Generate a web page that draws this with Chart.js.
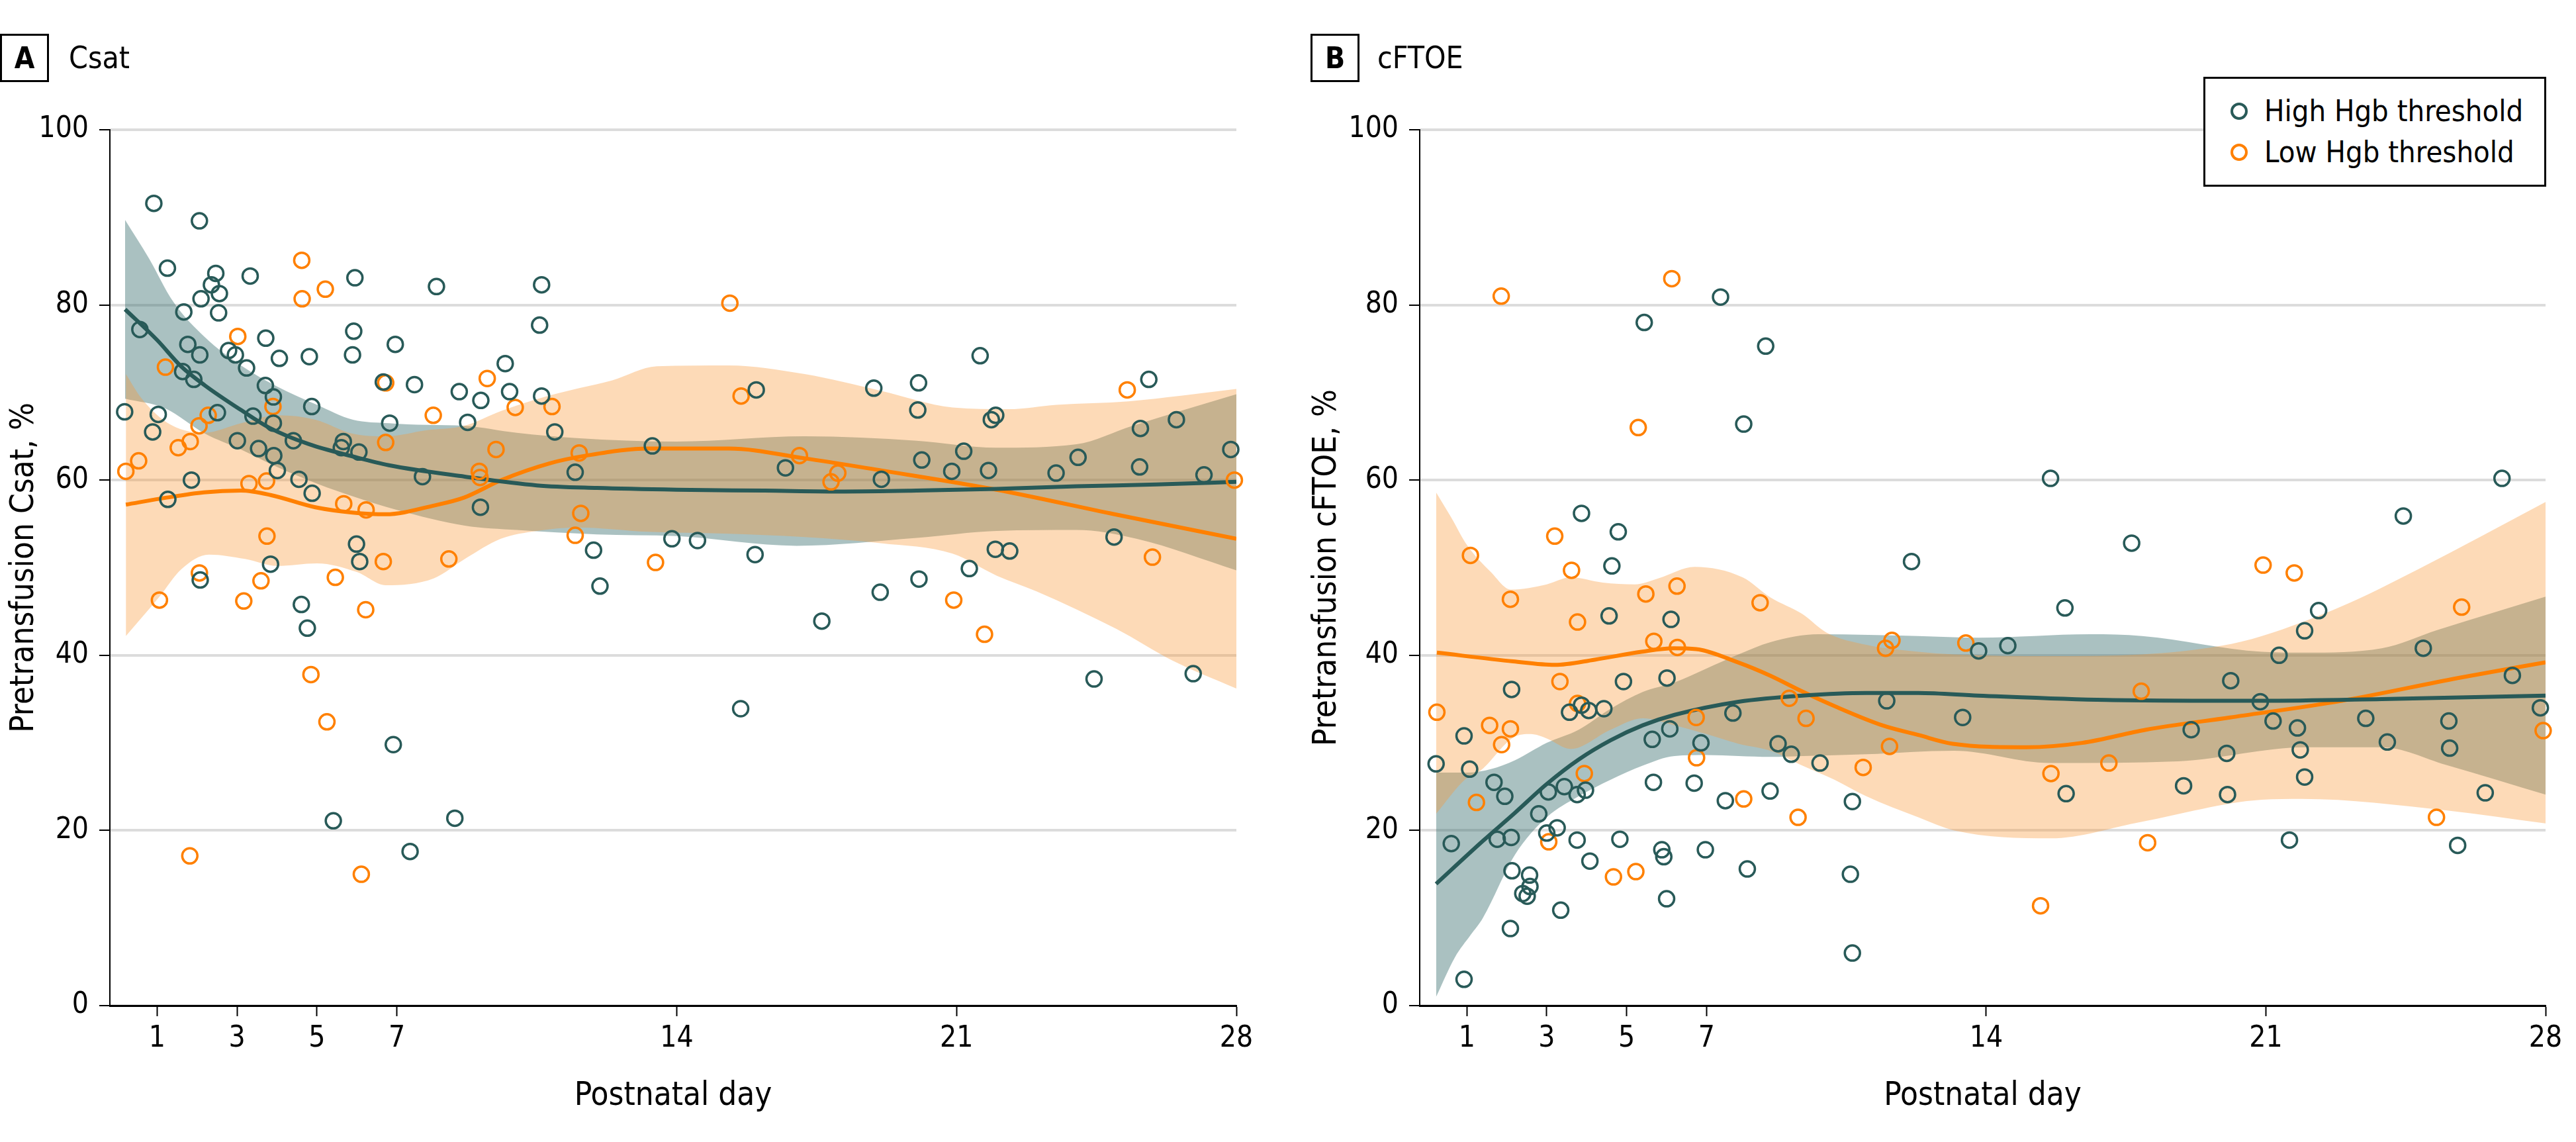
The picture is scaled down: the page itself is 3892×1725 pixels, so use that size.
<!DOCTYPE html>
<html>
<head>
<meta charset="utf-8">
<script src="https://cdn.jsdelivr.net/npm/chart.js@4.4.0/dist/chart.umd.min.js"></script>
<style>
  body { margin: 0; background: #fff; width: 3892px; height: 1725px; position: relative; overflow: hidden;
         font-family: 'DejaVu Sans Condensed', 'DejaVu Sans', sans-serif; font-stretch: condensed; }
  canvas { position: absolute; top: 0; }
  .tag { position: absolute; width: 74px; height: 73px; box-sizing: border-box; border: 3px solid #000;
         font-weight: bold; font-size: 44px; line-height: 67px; text-align: center; }
  .ttl { position: absolute; font-size: 46px; line-height: 73px; }
  .legend { position: absolute; left: 3329px; top: 116px; width: 518px; height: 166px; box-sizing: border-box;
            border: 3px solid #000; background: #fff; }
  .legend .mk { position: absolute; left: 38px; width: 26px; height: 26px; box-sizing: border-box;
                border: 4px solid; border-radius: 50%; }
  .legend .lb { position: absolute; left: 89px; font-size: 45px; line-height: 56px; }
</style>
</head>
<body>
<canvas id="csat" width="1946" height="1725" style="left:0"></canvas>
<canvas id="cftoe" width="1946" height="1725" style="left:1946px"></canvas>

<div class="tag" style="left:0;top:51px">A</div>
<div class="ttl" style="left:104px;top:51px">Csat</div>
<div class="tag" style="left:1980px;top:51px">B</div>
<div class="ttl" style="left:2081px;top:51px">cFTOE</div>

<div class="legend">
  <div class="mk" style="top:36px;border-color:#285a58"></div>
  <div class="lb" style="top:21px">High Hgb threshold</div>
  <div class="mk" style="top:98px;border-color:#ff8000"></div>
  <div class="lb" style="top:83px">Low Hgb threshold</div>
</div>

<script>
const dayTicks = [1, 3, 5, 7, 14, 21, 28];
const seriesNames = ['High Hgb threshold', 'Low Hgb threshold'];

// A: Csat, individual measurements [day, %]
const csatHigh = [[0.19,67.8],[0.57,77.2],[0.89,65.5],[0.92,91.6],[1.03,67.5],[1.26,84.2],[1.27,57.8],[1.64,72.4],[1.67,79.2],[1.77,75.5],[1.86,60.0],[1.92,71.5],[2.06,89.6],[2.07,74.3],[2.08,48.6],[2.10,80.7],[2.36,82.3],[2.47,83.6],[2.51,67.7],[2.54,79.1],[2.56,81.3],[2.79,74.8],[2.96,74.3],[3.01,64.5],[3.24,72.8],[3.33,83.3],[3.40,67.3],[3.54,63.6],[3.71,70.8],[3.72,76.2],[3.84,50.4],[3.91,69.5],[3.91,66.5],[3.92,62.8],[4.01,61.1],[4.06,73.9],[4.41,64.5],[4.55,60.1],[4.61,45.8],[4.76,43.1],[4.81,74.1],[4.87,68.4],[4.88,58.5],[5.41,21.1],[5.61,63.7],[5.66,64.4],[5.89,74.3],[5.92,77.0],[5.95,83.1],[5.99,52.7],[6.05,63.2],[6.07,50.7],[6.66,71.2],[6.82,66.5],[6.91,29.8],[6.96,75.5],[7.33,17.6],[7.44,70.9],[7.64,60.4],[7.99,82.1],[8.45,21.4],[8.56,70.1],[8.77,66.6],[9.09,56.9],[9.10,69.1],[9.71,73.3],[9.82,70.1],[10.57,77.7],[10.62,82.3],[10.62,69.6],[10.95,65.5],[11.46,60.9],[11.92,52.0],[12.08,47.9],[13.39,63.9],[13.88,53.3],[14.52,53.1],[15.6,33.9],[15.96,51.5],[15.99,70.3],[16.72,61.4],[17.63,43.9],[18.93,70.5],[19.09,47.2],[19.12,60.1],[20.03,68.0],[20.05,71.1],[20.06,48.7],[20.13,62.3],[20.88,61.0],[21.18,63.3],[21.32,49.9],[21.59,74.2],[21.8,61.1],[21.87,66.9],[21.97,52.1],[21.98,67.4],[22.33,51.9],[23.49,60.8],[24.04,62.6],[24.44,37.3],[24.94,53.5],[25.58,61.5],[25.6,65.9],[25.81,71.5],[26.5,66.9],[26.92,37.9],[27.19,60.6],[27.86,63.5]];
const csatLow = [[0.22,61.0],[0.54,62.2],[1.06,46.3],[1.21,72.9],[1.53,63.7],[1.82,17.1],[1.83,64.4],[2.05,66.2],[2.06,49.4],[2.28,67.4],[3.02,76.4],[3.17,46.2],[3.30,59.6],[3.60,48.5],[3.74,59.9],[3.75,53.6],[3.90,68.4],[4.62,85.1],[4.63,80.7],[4.85,37.8],[5.21,81.8],[5.25,32.4],[5.46,48.9],[5.67,57.3],[6.11,15.0],[6.22,45.2],[6.23,56.6],[6.66,50.7],[6.72,71.1],[6.72,64.3],[7.91,67.4],[8.30,51.0],[9.06,61.0],[9.08,60.3],[9.26,71.6],[9.48,63.5],[9.96,68.3],[10.88,68.4],[11.46,53.7],[11.56,63.1],[11.6,56.2],[13.47,50.6],[15.33,80.2],[15.61,69.6],[17.07,62.8],[17.86,59.8],[18.03,60.8],[20.93,46.3],[21.7,42.4],[25.27,70.3],[25.9,51.2],[27.95,60.0]];

// A: smoothed fits and 95% bands
const csatHighFit = [[0.2,79.5],[1,76.0],[1.6,73.0],[2.2,70.8],[3.1,68.0],[3.8,66.0],[4.8,64.1],[5.9,62.7],[6.8,61.7],[8.7,60.4],[10.5,59.4],[12,59.1],[14,58.9],[16.2,58.8],[18.2,58.7],[20,58.8],[22,59.0],[24,59.3],[26,59.5],[28,59.8]];
const csatLowFit = [[0.22,57.2],[1.24,58.0],[2.17,58.6],[3.1,58.8],[3.84,58.3],[4.96,56.9],[5.89,56.3],[6.72,56.1],[7.93,57.1],[8.68,58.0],[9.61,60.0],[10.81,61.9],[11.74,62.8],[13.3,63.6],[15.3,63.6],[17.18,62.5],[19.12,61.1],[22.0,58.9],[24.95,56.1],[28,53.3]];
const csatHighUpper = [[0.2,89.7],[0.8,85.3],[1.4,80.4],[2.2,76.3],[3.1,73.1],[4.0,70.7],[5.0,68.6],[5.9,66.9],[6.8,66.5],[7.75,66.3],[8.7,66.2],[10,65.4],[11.5,64.8],[14,64.4],[17.2,65.0],[20,64.5],[22,63.7],[24,64.1],[25.4,66.2],[28,69.8]];
const csatHighLower = [[0.2,69.3],[1.2,68.2],[2.2,65.3],[3.1,63.5],[4.0,61.5],[5.0,59.6],[6.0,58.0],[7.0,56.6],[8.7,54.8],[10,54.3],[12,53.8],[14,53.6],[17,52.5],[20,53.4],[22,54.2],[24,54.3],[25.5,53.3],[28,49.7]];
const csatLowUpper = [[0.22,72.1],[0.6,69.4],[1.24,66.6],[2.17,65.4],[3.1,66.5],[4.03,67.4],[4.96,66.9],[5.89,65.3],[6.72,65.0],[7.75,65.7],[8.68,66.2],[9.61,67.9],[10.54,69.3],[11.56,70.5],[12.39,71.4],[13.5,73.0],[15.3,73.1],[17.2,72.1],[19.1,70.2],[20.9,68.3],[22.3,68.1],[23.5,68.6],[25.3,69.0],[28,70.4]];
const csatLowLower = [[0.22,42.2],[1.06,46.7],[1.6,49.8],[2.3,51.5],[3.2,51.0],[4.0,50.2],[5.0,50.5],[6.0,49.5],[6.72,48.0],[7.93,48.8],[8.7,51.0],[9.6,53.3],[10.5,54.2],[11.5,54.6],[13.3,54.1],[15.2,53.9],[17.2,53.5],[19.1,52.8],[20.9,51.6],[22.0,49.1],[23.0,47.3],[25.0,43.0],[26.4,39.4],[28,36.2]];

// B: cFTOE, individual measurements [day, %]
const cftoeHigh = [[0.23,27.6],[0.61,18.5],[0.93,30.8],[0.93,3.0],[1.07,27.0],[1.68,25.5],[1.76,19.0],[1.95,23.9],[2.09,8.8],[2.11,19.2],[2.12,36.1],[2.13,15.4],[2.4,12.8],[2.51,12.5],[2.57,14.9],[2.58,13.6],[2.8,21.9],[3.0,19.7],[3.04,24.4],[3.26,20.3],[3.35,10.9],[3.44,25.0],[3.57,33.5],[3.76,24.1],[3.76,18.9],[3.87,34.3],[3.87,56.2],[3.97,24.6],[4.05,33.7],[4.08,16.5],[4.43,33.9],[4.56,44.5],[4.63,50.2],[4.79,54.1],[4.83,19.0],[4.92,37.0],[5.44,78.0],[5.64,30.4],[5.67,25.5],[5.88,17.8],[5.93,17.0],[6.0,12.2],[6.01,37.4],[6.08,31.6],[6.11,44.1],[6.69,25.4],[6.86,30.0],[6.97,17.8],[7.35,80.9],[7.47,23.4],[7.66,33.4],[7.93,66.4],[8.02,15.6],[8.48,75.3],[8.59,24.5],[8.79,29.9],[9.12,28.7],[9.84,27.7],[10.6,15.0],[10.65,23.3],[10.65,6.0],[11.51,34.8],[12.13,50.7],[13.41,32.9],[13.81,40.5],[14.54,41.1],[15.61,60.2],[15.97,45.4],[16.0,24.2],[17.64,52.8],[18.94,25.1],[19.13,31.5],[20.02,28.8],[20.04,24.1],[20.12,37.1],[20.86,34.7],[21.18,32.5],[21.33,40.0],[21.59,18.9],[21.79,31.7],[21.86,29.2],[21.97,42.8],[21.97,26.1],[22.32,45.1],[23.5,32.8],[24.04,30.1],[24.44,55.9],[24.94,40.8],[25.58,32.5],[25.6,29.4],[25.8,18.3],[26.49,24.3],[26.91,60.2],[27.17,37.7],[27.87,34.0]];
const cftoeLow = [[0.25,33.5],[1.09,51.4],[1.24,23.2],[1.57,32.0],[1.86,81.0],[1.87,29.8],[2.09,46.4],[2.09,31.6],[3.05,18.7],[3.2,53.6],[3.33,37.0],[3.62,49.7],[3.77,43.8],[3.77,34.5],[3.94,26.5],[4.67,14.7],[5.23,15.3],[5.29,66.0],[5.48,47.0],[5.68,41.6],[6.13,83.0],[6.26,47.9],[6.27,40.9],[6.74,32.9],[6.75,28.3],[7.93,23.6],[8.34,46.0],[9.07,35.1],[9.29,21.5],[9.49,32.8],[10.92,27.2],[11.48,40.8],[11.58,29.6],[11.64,41.7],[13.49,41.4],[15.36,11.4],[15.62,26.5],[17.07,27.7],[17.88,35.9],[18.04,18.6],[20.93,50.3],[21.71,49.4],[25.27,21.5],[25.9,45.5],[27.94,31.4]];

// B: smoothed fits and 95% bands
const cftoeHighFit = [[0.23,13.9],[1.4,18.8],[2.2,22.0],[3.0,25.3],[3.8,28.1],[4.6,30.3],[5.4,32.0],[6.2,33.2],[7.8,34.7],[9.4,35.4],[11,35.7],[12.3,35.7],[13.8,35.4],[17,34.9],[20.9,34.8],[23.9,35.0],[28,35.4]];
const cftoeLowFit = [[0.25,40.3],[2.16,39.3],[3.2,38.9],[4.2,39.5],[5.37,40.4],[6.17,40.8],[6.74,40.7],[7.78,39.2],[8.58,37.7],[9.38,35.9],[10.2,34.2],[11.4,32.0],[12.3,30.9],[13.16,29.9],[15.0,29.5],[16.4,30.0],[18.0,31.5],[20.1,32.9],[22.9,34.8],[25.8,37.4],[28,39.2]];
const cftoeHighUpper = [[0.23,26.6],[1.0,26.6],[1.6,27.0],[2.2,28.0],[2.6,29.0],[3.0,30.0],[3.8,31.5],[4.6,33.9],[5.4,35.8],[6.2,36.9],[7.0,38.5],[7.8,40.1],[8.6,41.5],[9.8,42.4],[12.3,42.2],[13.8,42.0],[16.6,42.4],[17.9,42.2],[20.9,40.4],[22.0,40.3],[23.9,40.8],[25.3,42.9],[28,46.7]];
const cftoeHighLower = [[0.23,1.0],[0.7,5.5],[1.1,8.1],[1.4,10.0],[2.2,17.2],[3.0,21.5],[3.8,23.9],[4.6,25.8],[5.4,27.4],[6.2,28.5],[7.0,28.6],[7.8,28.5],[8.6,28.4],[9.4,28.5],[11.0,28.7],[13.2,29.1],[15.6,27.7],[18.8,27.9],[22.0,29.5],[23.9,29.5],[25.5,27.5],[28,24.1]];
const cftoeLowUpper = [[0.23,58.6],[0.6,55.8],[1.0,52.6],[1.6,49.5],[2.1,47.5],[3.0,48.1],[3.6,48.9],[4.4,48.3],[5.2,48.1],[5.8,48.8],[6.7,50.1],[7.9,48.9],[8.6,46.6],[9.4,44.7],[10.0,42.6],[11.0,41.2],[12.3,40.4],[13.2,40.1],[15.6,39.9],[17.9,40.1],[19.9,41.1],[20.9,42.2],[22.9,45.6],[24.8,49.8],[28,57.5]];
const cftoeLowLower = [[0.23,21.9],[0.95,25.8],[1.36,26.9],[2.16,30.6],[2.6,31.0],[3.0,30.5],[3.6,29.3],[4.6,31.5],[5.4,32.8],[6.2,32.0],[7.0,31.0],[7.8,29.9],[8.6,29.1],[9.4,27.4],[10.2,25.8],[11.0,23.9],[12.3,21.5],[13.2,20.0],[15.6,19.1],[17.9,21.0],[20.9,23.5],[21.9,23.6],[25.5,22.3],[28,20.8]];

const tealColor = '#285a58';
const orangeColor = '#ff8000';
const tealBand = 'rgba(42,100,100,0.4)';
const orangeBand = 'rgba(250,150,50,0.35)';
const fontFamily = "'DejaVu Sans Condensed', 'DejaVu Sans', sans-serif";

Chart.defaults.font.family = fontFamily;
Chart.defaults.color = '#000';

const pts = arr => arr.map(p => ({ x: p[0], y: p[1] }));

function scatterSet(label, data, color, order) {
    return {
        label: label, data: pts(data), showLine: false, order: order, clip: false,
        pointRadius: 11.5, pointBorderWidth: 3.5, pointBorderColor: color,
        pointBackgroundColor: 'rgba(0,0,0,0)', pointStyle: 'circle'
    };
}

function fitSet(data, color, order) {
    return {
        data: pts(data), borderColor: color, borderWidth: 6, pointRadius: 0,
        cubicInterpolationMode: 'monotone', order: order, fill: false
    };
}

function bandEdge(data, order, fill, color) {
    return {
        data: pts(data), borderWidth: 0, borderColor: 'rgba(0,0,0,0)', pointRadius: 0,
        cubicInterpolationMode: 'monotone', order: order, fill: fill, backgroundColor: color
    };
}

function makePanel(id, yTitle, yWidth, padRight, titlePad, d) {
    const datasets = [
        scatterSet(seriesNames[0], d.high, tealColor, 0),
        scatterSet(seriesNames[1], d.low, orangeColor, 1),
        fitSet(d.highFit, tealColor, 2),
        fitSet(d.lowFit, orangeColor, 3),
        bandEdge(d.lowUpper, 4, false, orangeBand),
        bandEdge(d.lowLower, 5, '-1', orangeBand),
        bandEdge(d.highUpper, 6, false, tealBand),
        bandEdge(d.highLower, 7, '-1', tealBand)
    ];

    return new Chart(document.getElementById(id), {
        type: 'line',
        data: { datasets: datasets },
        options: {
            responsive: false,
            animation: false,
            devicePixelRatio: 1,
            events: [],
            layout: { padding: { left: 0, right: padRight, top: 196, bottom: 0 } },
            plugins: {
                legend: { display: false },
                tooltip: { enabled: false },
                filler: { propagate: false, drawTime: 'beforeDatasetDraw' }
            },
            scales: {
                x: {
                    type: 'linear', min: -0.18, max: 28,
                    afterBuildTicks: s => { s.ticks = dayTicks.map(v => ({ value: v })); },
                    afterFit: s => { s.height = 206; },
                    grid: { drawOnChartArea: false, drawTicks: true, tickLength: 16, tickWidth: 2, tickColor: '#000' },
                    border: { display: true, color: '#000', width: 3 },
                    ticks: { font: { size: 44 }, padding: 8, maxRotation: 0, autoSkip: false },
                    title: { display: true, text: 'Postnatal day', font: { size: 49 }, padding: { top: 0, bottom: 39 } }
                },
                y: {
                    min: 0, max: 100,
                    afterFit: s => { s.width = yWidth; },
                    grid: { color: '#dcdcdc', lineWidth: 4, drawTicks: true, tickLength: 16, tickWidth: 2, tickColor: '#000' },
                    border: { display: true, color: '#000', width: 2 },
                    ticks: { stepSize: 20, font: { size: 44 }, padding: 16 },
                    title: { display: true, text: yTitle, font: { size: 49 }, padding: { top: titlePad, bottom: 0 } }
                }
            }
        }
    });
}

makePanel('csat', 'Pretransfusion Csat, %', 166, 78, 8, {
    high: csatHigh, low: csatLow, highFit: csatHighFit, lowFit: csatLowFit,
    highUpper: csatHighUpper, highLower: csatHighLower, lowUpper: csatLowUpper, lowLower: csatLowLower
});

makePanel('cftoe', 'Pretransfusion cFTOE, %', 199, 46, 30, {
    high: cftoeHigh, low: cftoeLow, highFit: cftoeHighFit, lowFit: cftoeLowFit,
    highUpper: cftoeHighUpper, highLower: cftoeHighLower, lowUpper: cftoeLowUpper, lowLower: cftoeLowLower
});
</script>
</body>
</html>
